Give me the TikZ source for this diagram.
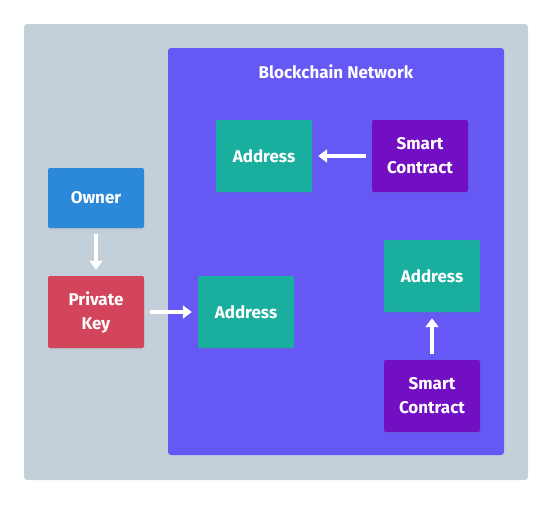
\documentclass[tikz,border=0pt]{standalone}
\usepackage{fontspec}
\setmainfont{Fira Sans}
\usepackage{xcolor}
\usetikzlibrary{positioning,shadows,arrows.meta}

\definecolor{panelgray}{HTML}{C3CFD9}
\definecolor{netviolet}{HTML}{6558F5}
\definecolor{ownerblue}{HTML}{2C88D9}
\definecolor{keyred}{HTML}{D3455B}
\definecolor{addrteal}{HTML}{1AAE9F}
\definecolor{contractpurple}{HTML}{730FC3}

\tikzset{
    block/.style={text=white, font=\bfseries\fontsize{17}{24}\selectfont, align=center,
        rounded corners=2pt, inner sep=0pt, minimum width=96pt, minimum height=72pt,
        drop shadow={opacity=0.12, shadow xshift=0pt, shadow yshift=-1.5pt}},
    flow/.style={white, line width=3.5pt, -{Triangle[length=9pt,width=13pt]},
        shorten <=6pt, shorten >=6pt}
}

\begin{document}
\begin{tikzpicture}[x=1pt,y=-1pt]
        \useasboundingbox (0,0) rectangle (552,504);
        % panels
        \fill[panelgray, rounded corners=3pt] (24,24) rectangle (528,480);
        \fill[netviolet, rounded corners=3pt] (168,48) rectangle (504,455);
        \node[text=white, font=\bfseries\fontsize{17}{20}\selectfont] (network) at (336,72) {Blockchain Network};

        % outside the network
        \node[block, fill=ownerblue, minimum height=60pt] (owner) at (96,198) {Owner};
        \node[block, fill=keyred] (key) at (96,312) {Private\\Key};

        % inside the network
        \node[block, fill=addrteal] (addrA) at (264,156) {Address};
        \node[block, fill=contractpurple] (contractA) at (420,156) {Smart\\Contract};
        \node[block, fill=addrteal] (addrB) at (246,312) {Address};
        \node[block, fill=addrteal] (addrC) at (432,276) {Address};
        \node[block, fill=contractpurple] (contractC) at (432,396) {Smart\\Contract};

        % arrows
        \draw[flow] (owner) -- (key);
        \draw[flow] (key) -- (addrB);
        \draw[flow] (contractA) -- (addrA);
        \draw[flow] (contractC) -- (addrC);
    \end{tikzpicture}
\end{document}
